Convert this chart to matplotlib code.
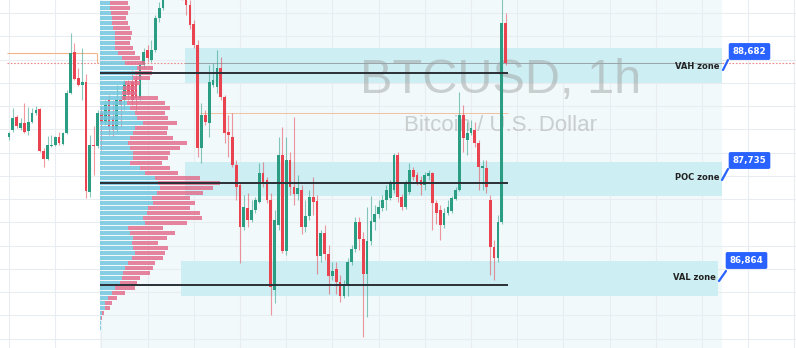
"""BTCUSD 1h 蜡烛图 + 成交量分布 (VAH / POC / VAL 区域)."""

import matplotlib.pyplot as plt
import numpy as np
from matplotlib.patches import Rectangle

# K线数据 (价格)
opens = [88134, 88194, 88306, 88211, 88254, 88185, 88263, 88340, 88375, 88013,
         87945, 88056, 88065, 88134, 88074, 88168, 88512, 88865, 88641, 88581,
         88607, 87661, 88065, 88056, 88340, 88263, 88452, 88297, 88194, 88452,
         88452, 88581, 88607, 88624, 88469, 88753, 88882, 88796, 88882, 89157,
         89243, 89355, 89484, 89398, 89527, 89441, 89355, 89269, 89106, 88925,
         88039, 88323, 88254, 88581, 88564, 88727, 88478, 88177, 88134, 87893,
         87721, 87360, 87523, 87420, 87506, 87575, 87824, 87764, 87592, 86818,
         87377, 87979, 87153, 87936, 87704, 87644, 87678, 87360, 87454, 87618,
         87583, 87110, 87308, 87128, 86938, 86999, 86887, 86766, 86861, 87059,
         87171, 87403, 87257, 86956, 87239, 87403, 87472, 87523, 87592, 87609,
         87678, 87979, 87618, 87532, 87661, 87850, 87807, 87764, 87721, 87798,
         87824, 87566, 87506, 87377, 87480, 87497, 87601, 87678, 88323, 88108,
         88168, 88194, 88082, 87867, 87867, 87592, 87188, 87093, 87403, 89114]
highs = [88177, 88383, 88323, 88297, 88426, 88392, 88383, 88400, 88383, 88039,
         88142, 88151, 88142, 88177, 88177, 88538, 89028, 88942, 88727, 88899,
         88676, 88151, 88228, 88366, 88409, 88452, 88495, 88452, 88581, 88495,
         88624, 88624, 88710, 88667, 88779, 88899, 88925, 88968, 89183, 89295,
         89415, 89553, 89570, 89613, 89587, 89484, 89398, 89312, 89140, 88968,
         88426, 88366, 88753, 88770, 88882, 88822, 88495, 88323, 88340, 87936,
         87738, 87635, 87652, 87592, 87618, 87910, 87919, 87790, 87652, 87506,
         88134, 88220, 88134, 88005, 88306, 87807, 87721, 87592, 87678, 87790,
         87635, 87334, 87377, 87205, 87059, 87059, 86947, 86904, 87093, 87205,
         87446, 87446, 87317, 87532, 87626, 87549, 87592, 87635, 87721, 87764,
         87996, 88005, 87644, 87764, 87910, 87876, 87833, 87798, 87833, 87850,
         87833, 87592, 87549, 87523, 87592, 87626, 87704, 88521, 88409, 88263,
         88280, 88263, 88108, 87936, 87936, 87635, 87248, 87463, 89330, 89200]
lows = [88108, 88177, 88211, 88194, 88168, 88151, 88254, 88323, 88005, 87876,
        87936, 88048, 88056, 88065, 88065, 88160, 88504, 88624, 88572, 88452,
        87609, 87618, 87807, 88039, 88022, 88237, 88151, 88134, 88168, 88220,
        88366, 88452, 88409, 88366, 88452, 88727, 88779, 88779, 88865, 89123,
        89226, 89338, 89355, 89381, 89398, 89312, 89183, 89063, 88899, 87962,
        87910, 88237, 88134, 88564, 88512, 88452, 88082, 87962, 87876, 87592,
        87050, 87334, 87360, 87403, 87480, 87566, 87704, 87566, 86603, 86706,
        87334, 87136, 87119, 87635, 87549, 87592, 87300, 87317, 87420, 87463,
        86956, 87059, 87076, 86784, 86904, 86784, 86715, 86749, 86766, 87033,
        87145, 87162, 86414, 86586, 87205, 87334, 87437, 87497, 87506, 87592,
        87652, 87575, 87506, 87515, 87644, 87764, 87721, 87635, 87678, 87764,
        87334, 87386, 87248, 87351, 87463, 87480, 87592, 87669, 88005, 87979,
        88151, 88048, 87678, 87678, 87652, 86947, 86904, 87059, 87386, 88753]
closes = [88168, 88297, 88228, 88254, 88177, 88263, 88340, 88366, 88013, 87945,
          88065, 88065, 88134, 88082, 88168, 88512, 88856, 88633, 88581, 88607,
          87669, 88065, 88056, 88340, 88263, 88409, 88220, 88194, 88452, 88409,
          88607, 88495, 88452, 88469, 88753, 88865, 88813, 88882, 89157, 89243,
          89355, 89484, 89398, 89527, 89441, 89355, 89269, 89097, 88925, 88039,
          88323, 88263, 88607, 88624, 88727, 88478, 88168, 88151, 87893, 87704,
          87360, 87532, 87420, 87506, 87592, 87824, 87747, 87592, 86844, 87420,
          87979, 87153, 87936, 87704, 87644, 87695, 87360, 87454, 87618, 87575,
          87110, 87308, 87128, 86938, 86981, 86887, 86766, 86870, 87059, 87171,
          87403, 87257, 86956, 87239, 87411, 87472, 87532, 87592, 87678, 87738,
          87979, 87618, 87532, 87747, 87850, 87790, 87747, 87721, 87807, 87824,
          87566, 87480, 87377, 87480, 87532, 87609, 87678, 88323, 88125, 88168,
          88211, 88082, 87876, 87884, 87704, 87188, 87093, 87403, 89114, 88770]

# 成交量分布 (从上到下每个价格档的买/卖量)
vol_up = [10, 10, 11, 12, 12, 13, 15, 15, 15, 15,
          18, 22, 25, 37, 35, 33, 25, 23, 22, 22,
          27, 30, 35, 37, 43, 35, 33, 30, 28, 30,
          33, 33, 30, 40, 45, 55, 58, 60, 57, 52,
          53, 48, 47, 43, 45, 28, 30, 33, 32, 33,
          35, 32, 28, 25, 23, 22, 20, 15, 12, 8,
          5, 5, 2, 1, 1, 0.8, 0.5]
vol_down = [18, 20, 17, 14, 16, 17, 17, 16, 15, 18,
            17, 18, 20, 16, 17, 17, 15, 14, 15, 36,
            38, 40, 30, 31, 34, 33, 34, 43, 59, 50,
            37, 35, 32, 30, 33, 45, 62, 53, 46, 38,
            42, 42, 53, 59, 42, 35, 45, 34, 26, 35,
            30, 31, 27, 28, 27, 18, 17, 20, 13, 9,
            7, 5, 2, 1, 0.5, 0.2, 0.3]

# 区域
zone_names = ["VAH zone", "POC zone", "VAL zone"]
zone_levels = [88682, 87735, 86864]
zone_texts = ["88,682", "87,735", "86,864"]
zone_low = [88598, 87626, 86766]
zone_high = [88899, 87919, 87067]

# 其它水平线
ref_high = 88856
ref_mid = 88340

# 画布 / 坐标换算 (像素 -> 数据坐标, 仅用于布局)
W, H = 796, 348
STEP = 3.85
X0 = 9
P_TOP = 89312
P_PX = 8.6


def xi(px):
    return (px - X0) / STEP


def yp(py):
    return P_TOP - P_PX * py


GREEN = "#2a9d83"
RED = "#e8434f"

fig = plt.figure(figsize=(W / 100, H / 100), dpi=100)
ax = fig.add_axes([0, 0, 1, 1])
ax.axis("off")
ax.set_xlim(xi(0), xi(W))
ax.set_ylim(yp(H), yp(0))

# 背景色块 + 网格
ax.axvspan(xi(100), xi(722), color="#f1f9fb", lw=0, zorder=0)
for g in np.arange(0, 205, 12):
    ax.axvline(g, color="#e9edf1", lw=0.8, zorder=0.5)
for g in np.arange(86400, 89400, 200):
    ax.axhline(g, color="#e9edf1", lw=0.8, zorder=0.5)

# 区域矩形
lefts = [xi(185), xi(185), xi(181)]
rights = [xi(722), xi(722), xi(718)]
for lo, hi, l, r in zip(zone_low, zone_high, lefts, rights):
    ax.add_patch(Rectangle((l, lo), r - l, hi - lo, color="#cdeef3", lw=0, zorder=1))

# 水印
ax.text(xi(501), yp(93), "BTCUSD, 1h", family="Liberation Sans", fontsize=35,
        color="#9a9a9a", alpha=0.45, ha="center", va="baseline", zorder=1.5)
ax.text(xi(501), yp(131), "Bitcoin / U.S. Dollar", family="Liberation Sans",
        fontsize=16, color="#9a9a9a", alpha=0.45, ha="center", va="baseline",
        zorder=1.5)

# 参考线
ax.hlines(ref_high, xi(7), xi(97), color="#f3b48a", lw=0.8, zorder=2)
ax.vlines(xi(97), closes[-1], ref_high, color="#f3b48a", lw=0.8, zorder=2)
ax.hlines(ref_mid, xi(200), xi(508), color="#f3b48a", lw=0.7, alpha=0.8, zorder=2)
ax.hlines(closes[-1], xi(7), xi(185), color="#ec8a8a", lw=0.8,
          linestyles=(0, (1.5, 1.5)), zorder=2)
ax.hlines(closes[-1], xi(185), xi(722), color="#9aa4a8", lw=0.7, zorder=2)
ax.hlines(closes[-1], xi(722), xi(W), color="#ec8a8a", lw=0.8,
          linestyles=(0, (1.5, 1.5)), zorder=2)

# K线
o = np.array(opens)
c = np.array(closes)
idx = np.arange(len(o))
col = np.where(c >= o, GREEN, RED)
ax.vlines(idx, lows, highs, colors=col, lw=0.8, alpha=0.55, zorder=3)
ax.bar(idx, np.maximum(np.abs(c - o), 6), bottom=np.minimum(o, c), width=0.72,
       color=col, lw=0, zorder=3.5)

# 成交量分布
n = len(vol_up)
bin_h = 43
centers = P_TOP - bin_h * (np.arange(n) + 0.5)
up = np.array(vol_up) / STEP
dn = np.array(vol_down) / STEP
base = xi(100)
ax.barh(centers, up, left=base, height=bin_h * 0.8, color="#72c7df",
        alpha=0.85, lw=0, zorder=5)
ax.barh(centers, dn, left=base + up, height=bin_h * 0.8, color="#e2708f",
        alpha=0.85, lw=0, zorder=5)

# VAH / POC / VAL 线
ax.hlines(zone_levels, xi(100), xi(508), color="#2b2f36", lw=1.4, zorder=6)

# 标签和价格气泡
text_x = [xi(720), xi(720), xi(716)]
text_y = [yp(66), yp(178), yp(278)]
box_x = [xi(749.5), xi(749.5), xi(746.5)]
box_y = [yp(51.5), yp(160.5), yp(260.5)]
tails = [((728, 60), (723, 70)), ((728, 169), (722, 180)), ((726, 271), (719, 281))]
for name, txt, tx, ty, bx, by, tl in zip(zone_names, zone_texts, text_x, text_y,
                                          box_x, box_y, tails):
    ax.text(tx, ty, name, fontsize=6, fontweight="bold", color="#222222",
            ha="right", va="center", zorder=7)
    (x1, y1), (x2, y2) = tl
    ax.plot([xi(x1), xi(x2)], [yp(y1), yp(y2)], color="#2962ff", lw=1.6,
            solid_capstyle="round", zorder=7)
    ax.text(bx, by, txt, fontsize=6.3, fontweight="bold", color="white",
            ha="center", va="center", zorder=8,
            bbox=dict(boxstyle="round,pad=0.45,rounding_size=0.2",
                      fc="#2962ff", ec="none"))

plt.savefig("out.png", dpi=100)
